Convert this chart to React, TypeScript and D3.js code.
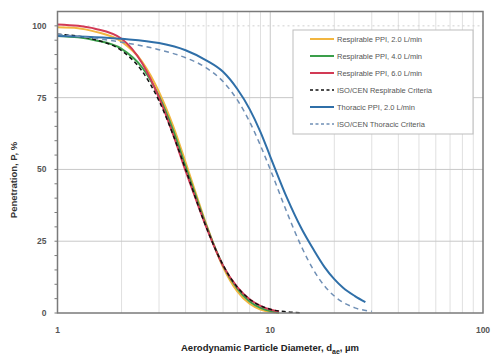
import React from "react";
import * as d3 from "d3";

// diameters (µm) and penetration (%)
const respDiam = [1, 1.25, 1.5, 2, 2.5, 3, 3.5, 4, 4.5, 5, 6, 7, 8, 9, 10, 11];
const ppi2 = [99.5, 99.2, 98, 94.5, 87.5, 77, 65, 52.5, 41, 31, 16, 7.5, 3.2, 1.2, 0.4, 0.1];
const ppi4 = [96.5, 96, 95, 92, 85.5, 75.5, 63.5, 51, 40, 30.5, 16.5, 8.5, 4, 1.8, 0.7, 0.2];
const ppi6 = [100.5, 100, 99, 95.5, 87, 75, 62, 49.5, 39, 30, 16.5, 9, 4.8, 2.5, 1.2, 0.5];

const isoRespDiam = [1, 1.5, 2, 2.5, 3, 3.5, 4, 5, 6, 7, 8, 10, 12, 14];
const isoResp = [97.1, 95.2, 91.4, 84.2, 73.9, 61.9, 50, 29.9, 16.7, 9, 4.8, 1.3, 0.4, 0.1];

const thorDiam = [1, 2, 3, 4, 5, 6, 7, 8, 9, 10, 12, 14, 16, 18, 20, 22, 25, 28];
const thorPpi = [96.5, 95.5, 94, 91.5, 88, 84, 78, 71, 63, 54.5, 40, 29.5, 22, 16, 11.8, 8.8, 5.9, 3.8];

const isoThorDiam = [1, 2, 3, 4, 5, 6, 7, 8, 9, 10, 12, 14, 16, 18, 20, 25, 30];
const isoThor = [97.1, 94.3, 91.7, 88.9, 85.4, 80.6, 74.2, 66.6, 58.3, 50, 34.9, 23.2, 14.9, 9.4, 5.9, 1.8, 0.6];

const yTicks = [0, 25, 50, 75, 100];
const xTicks = [1, 10, 100];

const series = [
  { name: "Respirable PPI, 2.0 L/min", x: respDiam, y: ppi2, color: "#f2b640", dash: "", w: 2 },
  { name: "Respirable PPI, 4.0 L/min", x: respDiam, y: ppi4, color: "#3a9e4a", dash: "", w: 2 },
  { name: "Respirable PPI, 6.0 L/min", x: respDiam, y: ppi6, color: "#d23a55", dash: "", w: 2 },
  { name: "ISO/CEN Respirable Criteria", x: isoRespDiam, y: isoResp, color: "#111111", dash: "4,3", w: 1.5 },
  { name: "Thoracic PPI, 2.0 L/min", x: thorDiam, y: thorPpi, color: "#2f6fa8", dash: "", w: 2 },
  { name: "ISO/CEN Thoracic Criteria", x: isoThorDiam, y: isoThor, color: "#6f8fb5", dash: "5,4", w: 1.5 },
];

export default function App() {
  const left = 57.5, right = 483, top = 11.5, bottom = 313;
  const x = d3.scaleLog().domain([1, 100]).range([left, right]);
  const y = d3.scaleLinear().domain([0, 105]).range([bottom, top]);

  const line = d3.line<[number, number]>()
    .x(d => x(d[0]))
    .y(d => y(d[1]))
    .curve(d3.curveMonotoneX);

  const minorX: number[] = [];
  [1, 10].forEach(b => { for (let i = 2; i <= 9; i++) minorX.push(b * i); });
  const minorY = d3.range(0, 105, 5);

  const font = "'Liberation Sans', Arial, sans-serif";

  return (
    <svg width={494} height={358} style={{ position: "absolute", left: 0, top: 0, background: "#fff" }}>
      {/* grid */}
      {minorX.map(v => (
        <line key={"gx" + v} x1={x(v)} x2={x(v)} y1={top} y2={bottom} stroke="#e0e0e0" strokeWidth={1} />
      ))}
      <line x1={x(10)} x2={x(10)} y1={top} y2={bottom} stroke="#c8c8c8" strokeWidth={1} />
      {[25, 50, 75].map(v => (
        <line key={"gy" + v} x1={left} x2={right} y1={y(v)} y2={y(v)} stroke="#c8c8c8" strokeWidth={1} />
      ))}
      <line x1={left} x2={right} y1={y(100)} y2={y(100)} stroke="#d0d0d0" strokeDasharray="2,3" />

      {/* curves */}
      {series.map(s => (
        <path key={s.name} d={line(s.x.map((d, i) => [d, s.y[i]] as [number, number])) || ""}
          fill="none" stroke={s.color} strokeWidth={s.w} strokeDasharray={s.dash || undefined} />
      ))}

      {/* frame */}
      <rect x={left} y={top} width={right - left} height={bottom - top} fill="none" stroke="#7a7a7a" strokeWidth={1.5} />

      {/* y ticks */}
      {minorY.map(v => (
        <line key={"ty" + v} x1={left - 3} x2={left} y1={y(v)} y2={y(v)} stroke="#7a7a7a" />
      ))}
      {yTicks.map(v => (
        <text key={"yl" + v} x={left - 11} y={y(v) + 3} textAnchor="end" fontFamily={font}
          fontSize={8.5} fontWeight="bold" fill="#555">{v}</text>
      ))}
      {xTicks.map(v => (
        <text key={"xl" + v} x={x(v)} y={bottom + 20} textAnchor="middle" fontFamily={font}
          fontSize={8.5} fontWeight="bold" fill="#555">{v}</text>
      ))}

      {/* axis titles */}
      <text x={270} y={351} textAnchor="middle" fontFamily={font} fontSize={9.5} fontWeight="bold" fill="#222">
        Aerodynamic Particle Diameter, d<tspan fontSize={7} dy={2.5}>ae</tspan><tspan dy={-2.5}>, µm</tspan>
      </text>
      <text transform="translate(17,180) rotate(-90)" textAnchor="middle" fontFamily={font}
        fontSize={9.5} fontWeight="bold" fill="#333">Penetration, P, %</text>

      {/* legend */}
      <rect x={293} y={30} width={180} height={104} fill="#fff" stroke="#bdbdbd" strokeWidth={1} />
      {series.map((s, i) => {
        const ly = 39 + i * 17;
        return (
          <g key={"lg" + i}>
            <line x1={310} x2={334} y1={ly} y2={ly} stroke={s.color} strokeWidth={s.w}
              strokeDasharray={s.dash ? "3,2.5" : undefined} />
            <text x={337} y={ly + 3} fontFamily={font} fontSize={7.5} fill="#555">{s.name}</text>
          </g>
        );
      })}
    </svg>
  );
}
